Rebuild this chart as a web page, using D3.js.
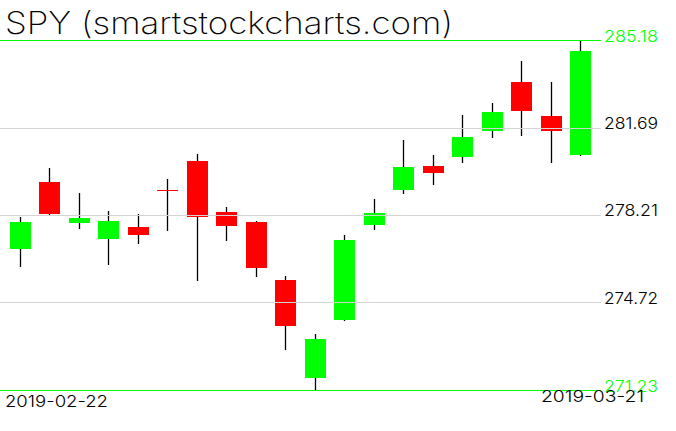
<!DOCTYPE html>
<html>
<head>
<meta charset="utf-8">
<script src="https://cdn.jsdelivr.net/npm/d3@7"></script>
<style>
html,body{margin:0;padding:0;background:#fff;}
svg{display:block;}
text{font-family:Inter,"DejaVu Sans",sans-serif;}
</style>
</head>
<body>
<svg id="chart" width="676" height="431"></svg>
<script>
const titleText = "SPY (smartstockcharts.com)";
const dates = ["2019-02-22","2019-02-25","2019-02-26","2019-02-27","2019-02-28","2019-03-01","2019-03-04","2019-03-05","2019-03-06","2019-03-07","2019-03-08","2019-03-11","2019-03-12","2019-03-13","2019-03-14","2019-03-15","2019-03-18","2019-03-19","2019-03-20","2019-03-21"];
const opens  = [276.87,279.54,277.92,277.27,277.75,279.21,280.38,278.35,277.95,275.63,271.71,274.03,277.84,279.22,280.18,280.54,281.56,283.54,282.18,280.62];
const highs  = [278.16,280.10,279.10,278.39,278.27,279.66,280.66,278.55,277.97,275.79,273.47,277.43,278.87,281.20,280.62,282.22,282.70,284.38,283.54,285.18];
const lows   = [276.16,278.24,277.67,276.24,277.08,277.60,275.60,277.20,275.76,272.83,271.23,273.99,277.63,279.06,279.42,280.30,281.30,281.38,280.30,280.58];
const closes = [277.96,278.28,278.11,277.99,277.43,279.21,278.16,277.80,276.12,273.80,273.27,277.23,278.31,280.14,279.90,281.34,282.34,282.39,281.56,284.78];
const yTicks = [285.18,281.69,278.21,274.72,271.23];
const xLabels = ["2019-02-22","2019-03-21"];

const svg = d3.select("#chart");
const x = d3.scalePoint().domain(dates).range([20.5,580.5]);
const y = d3.scaleLinear().domain([271.23,285.18]).range([390.5,40.5]);
const data = dates.map((d,i)=>({d,o:opens[i],h:highs[i],l:lows[i],c:closes[i]}));
const GREEN="#00ff00", RED="#ff0000";
const bw = 21;

// title
svg.append("text").attr("x",5).attr("y",34)
  .style("font-weight",200)
  .attr("font-size",31).attr("textLength",448).attr("lengthAdjust","spacingAndGlyphs")
  .attr("fill","#000").text(titleText);

const g = svg.append("g");
// wicks
g.selectAll("line.wick").data(data).enter().append("line")
  .attr("x1",d=>Math.floor(x(d.d))+0.5).attr("x2",d=>Math.floor(x(d.d))+0.5)
  .attr("y1",d=>Math.round(y(d.h))).attr("y2",d=>Math.round(y(d.l)))
  .attr("stroke","#000").attr("stroke-width",1.3);
// bodies
g.selectAll("rect.body").data(data.filter(d=>d.o!==d.c)).enter().append("rect")
  .attr("x",d=>Math.floor(x(d.d))-10)
  .attr("width",bw)
  .attr("y",d=>Math.round(y(Math.max(d.o,d.c))))
  .attr("height",d=>Math.max(1,Math.round(y(Math.min(d.o,d.c)))-Math.round(y(Math.max(d.o,d.c)))))
  .attr("fill",d=>d.c>d.o?GREEN:RED);
// dojis
g.selectAll("line.doji").data(data.filter(d=>d.o===d.c)).enter().append("line")
  .attr("x1",d=>Math.floor(x(d.d))-10).attr("x2",d=>Math.floor(x(d.d))+11)
  .attr("y1",d=>Math.round(y(d.c))+0.5).attr("y2",d=>Math.round(y(d.c))+0.5)
  .attr("stroke",RED).attr("stroke-width",1);

// horizontal lines and labels
yTicks.forEach((t,i)=>{
  const edge = (i===0||i===yTicks.length-1);
  const yy = Math.round(y(t)-0.5)+0.5;
  svg.append("line").attr("x1",0).attr("x2",601).attr("y1",yy).attr("y2",yy)
    .attr("stroke",edge?GREEN:"#d3d3d3").attr("stroke-width",1);
});
yTicks.forEach((t,i)=>{
  const edge = (i===0||i===yTicks.length-1);
  svg.append("text").attr("x",604).attr("y",Math.round(y(t))+1)
    .style("font-weight",300)
    .attr("font-size",16.5).attr("textLength",54).attr("lengthAdjust","spacingAndGlyphs")
    .attr("fill",edge?GREEN:"#000").text(d3.format(".2f")(t));
});

// date labels
svg.append("text").attr("x",5).attr("y",407).attr("font-size",16.5).style("font-weight",300)
  .attr("textLength",103).attr("lengthAdjust","spacingAndGlyphs").attr("fill","#000").text(xLabels[0]);
svg.append("text").attr("x",541).attr("y",402).attr("font-size",16.5).style("font-weight",300)
  .attr("textLength",103).attr("lengthAdjust","spacingAndGlyphs").attr("fill","#000").text(xLabels[1]);
</script>
</body>
</html>
